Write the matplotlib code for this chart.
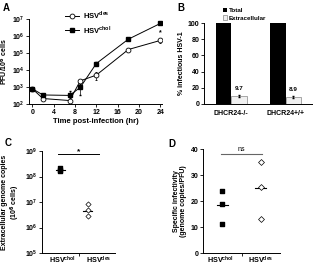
import matplotlib
matplotlib.use("Agg")
import matplotlib.pyplot as plt
import matplotlib.transforms as mtransforms
from matplotlib.lines import Line2D
import numpy as np

plt.rcParams['font.family'] = ['Liberation Sans', 'DejaVu Sans']
plt.rcParams['font.weight'] = 'bold'
plt.rcParams['axes.labelweight'] = 'bold'
plt.rcParams['font.size'] = 5

# ---- Data ----
time_hr = [0, 2, 7, 9, 12, 18, 24]
des_pfu = [800, 210, 160, 2300, 5000, 1.6e5, 5.5e5]
des_err = [100, 40, 60, 400, 2500, 3e4, 1.5e5]
chol_pfu = [800, 340, 320, 950, 2.4e4, 6.5e5, 5.5e6]
chol_err = [100, 60, 250, 600, 5e3, 1e5, 5e5]

b_groups = ['DHCR24-/-', 'DHCR24+/+']
b_total = [100, 100]
b_extra = [9.7, 8.9]
b_extra_err = [1.0, 1.0]

c_labels = ['HSV$^{\\mathregular{chol}}$', 'HSV$^{\\mathregular{des}}$']
c_chol = [2.1e8, 1.8e8, 1.6e8]
c_des = [8.0e6, 5.0e6, 2.9e6]
c_chol_mean = 1.8e8
c_des_mean = 4.5e6

d_chol = [24, 19, 11]
d_des = [35, 25.5, 13]
d_chol_mean = 18.5
d_des_mean = 25

W, H = 313, 266
fig = plt.figure(figsize=(W / 100, H / 100), dpi=100)

def ax_px(l, t, r, b):
    return fig.add_axes([l / W, 1 - b / H, (r - l) / W, (b - t) / H])

def style(ax):
    for s in ['top', 'right']:
        ax.spines[s].set_visible(False)
    for s in ['left', 'bottom']:
        ax.spines[s].set_linewidth(0.7)
    ax.tick_params(width=0.6, length=2, labelsize=5, pad=1.5)

# ---- Panel A ----
axA = ax_px(29, 19, 162, 104)
style(axA)
axA.set_yscale('log')
axA.set_ylim(1e2, 1e7)
axA.set_xlim(-0.6, 24.3)
axA.set_xticks([0, 4, 8, 12, 16, 20, 24])
axA.errorbar(time_hr, des_pfu, yerr=des_err, color='black', lw=0.7, marker='o',
             ms=3.5, mfc='white', mec='black', mew=0.6, capsize=1, elinewidth=0.5)
axA.errorbar(time_hr, chol_pfu, yerr=chol_err, color='black', lw=0.7, marker='s',
             ms=3.3, mfc='black', mec='black', capsize=1, elinewidth=0.5)
axA.text(24, 1.6e6, '*', ha='center', va='center', fontsize=5)
axA.set_ylabel('PFU/10$^{6}$ cells', fontsize=5, labelpad=1)
axA.set_xlabel('Time post-infection (hr)', fontsize=5.5, labelpad=1.5)
axA.yaxis.set_minor_locator(matplotlib.ticker.NullLocator())
hA = [Line2D([], [], color='black', lw=0.7, marker='o', ms=3.5, mfc='white', mec='black', mew=0.6),
      Line2D([], [], color='black', lw=0.7, marker='s', ms=3.3, mfc='black')]
axA.legend(hA, ['HSV$^{\\mathregular{des}}$', 'HSV$^{\\mathregular{chol}}$'],
           loc='upper left', bbox_to_anchor=(0.22, 1.2), frameon=False,
           fontsize=5.5, handlelength=1.8, handletextpad=0.6, labelspacing=0.35)
fig.text(3 / W, 1 - 8 / H, 'A', fontsize=7, fontweight='bold', va='center')

# ---- Panel B ----
axB = ax_px(204, 23, 313, 104)
style(axB)
xb = np.arange(len(b_groups))
bw = 0.28
axB.bar(xb - bw / 2, b_total, width=bw, color='black', label='Total')
axB.bar(xb + bw / 2, b_extra, width=bw, color='#f0f0f0', edgecolor='#888888',
        linewidth=0.5, yerr=b_extra_err, error_kw=dict(elinewidth=0.5, capsize=1),
        label='Extracellular')
for x, v in zip(xb, b_extra):
    axB.text(x + bw / 2, v + 6, f'{v}', ha='center', va='bottom', fontsize=4.5)
axB.set_xlim(-0.5, 1.5)
axB.set_ylim(0, 100)
axB.set_yticks([0, 20, 40, 60, 80, 100])
axB.set_xticks(xb)
axB.set_xticklabels(b_groups, fontsize=5)
axB.tick_params(axis='x', length=0, pad=4)
axB.set_ylabel('% infectious HSV-1', fontsize=5, labelpad=2)
axB.legend(loc='lower left', bbox_to_anchor=(0.15, 1.0), frameon=False, fontsize=4.5,
           handlelength=0.7, handleheight=0.7, handletextpad=0.2, labelspacing=0.3,
           borderaxespad=0)
fig.text(177 / W, 1 - 8 / H, 'B', fontsize=7, fontweight='bold', va='center')

# ---- Panel C ----
axC = ax_px(42, 151, 115, 253)
style(axC)
axC.set_yscale('log')
axC.set_ylim(1e5, 1e9)
axC.set_xlim(0, 2)
axC.yaxis.set_minor_locator(matplotlib.ticker.NullLocator())
axC.scatter([0.5] * 3, c_chol, marker='s', s=9, color='black', zorder=3)
axC.scatter([1.25] * 3, c_des, marker='D', s=7, facecolor='white', edgecolor='black',
            linewidth=0.5, zorder=3)
axC.plot([0.38, 0.62], [c_chol_mean] * 2, color='black', lw=0.8)
axC.plot([1.13, 1.37], [c_des_mean] * 2, color='black', lw=0.8)
axC.plot([0.45, 1.55], [7.5e8, 7.5e8], color='black', lw=0.7)
axC.text(1.0, 9.0e8, '*', ha='center', va='center', fontsize=6)
axC.set_xticks([1])
axC.set_xticklabels([])
axC.tick_params(axis='x', length=2)
offC = mtransforms.offset_copy(axC.get_xaxis_transform(), fig=fig, y=-1.0, units='points')
for x, lab in zip([0.55, 1.55], c_labels):
    axC.text(x, 0, lab, ha='center', va='top', fontsize=5.2, transform=offC)
axC.set_ylabel('Extracellular genome copies\n(10$^{6}$ cells)', fontsize=5, labelpad=2,
               linespacing=1.1)
fig.text(5 / W, 1 - 143 / H, 'C', fontsize=7, fontweight='bold', va='center')

# ---- Panel D ----
axD = ax_px(203, 149, 280, 253)
style(axD)
axD.set_ylim(0, 40)
axD.set_xlim(0, 2)
axD.set_yticks([0, 10, 20, 30, 40])
axD.scatter([0.5] * 3, d_chol, marker='s', s=11, color='black', zorder=3)
axD.scatter([1.5] * 3, d_des, marker='D', s=9, facecolor='white', edgecolor='black',
            linewidth=0.5, zorder=3)
axD.plot([0.36, 0.64], [d_chol_mean] * 2, color='black', lw=0.8)
axD.plot([1.36, 1.64], [d_des_mean] * 2, color='black', lw=0.8)
axD.plot([0.48, 1.52], [38, 38], color='#666666', lw=0.8)
axD.text(1.0, 38.6, 'ns', ha='center', va='bottom', fontsize=5, fontweight='normal')
axD.set_xticks([1])
axD.set_xticklabels([])
axD.tick_params(axis='x', length=2)
offD = mtransforms.offset_copy(axD.get_xaxis_transform(), fig=fig, y=-1.0, units='points')
for x, lab in zip([0.45, 1.5], c_labels):
    axD.text(x, 0, lab, ha='center', va='top', fontsize=5.2, transform=offD)
axD.set_ylabel('Specific infectivity\n(genome copies/PFU)', fontsize=5, labelpad=2,
               linespacing=1.1)
fig.text(168 / W, 1 - 144 / H, 'D', fontsize=7, fontweight='bold', va='center')

fig.savefig('out.png', dpi=100)
